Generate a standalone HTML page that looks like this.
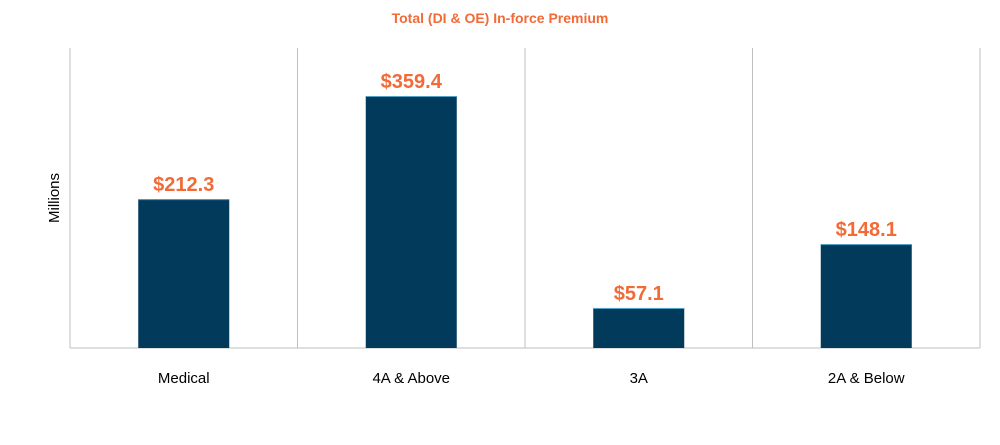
<!DOCTYPE html>
<html><head><meta charset="utf-8">
<style>
html,body{margin:0;padding:0;background:#fff;}
body{width:1000px;height:440px;overflow:hidden;font-family:"Liberation Sans",sans-serif;}
</style></head>
<body>
<svg id="chart" width="1000" height="440" xmlns="http://www.w3.org/2000/svg">
<text x="500" y="23" text-anchor="middle" font-size="14" font-weight="bold" fill="#F26A36" font-family="Liberation Sans, sans-serif">Total (DI &amp; OE) In-force Premium</text>
<text x="0" y="0" transform="translate(59,198) rotate(-90)" text-anchor="middle" font-size="15" fill="#000" font-family="Liberation Sans, sans-serif">Millions</text>
<g id="grid"></g>
<g id="bars"></g>
</svg>
<script>
const categories = ["Medical", "4A & Above", "3A", "2A & Below"];
const values = [212.3, 359.4, 57.1, 148.1];
const valueLabels = ["$212.3", "$359.4", "$57.1", "$148.1"];

const plotLeft = 70, plotRight = 980, plotTop = 48, baseline = 348;
const pxPerUnit = 252 / 359.4;
const bandW = (plotRight - plotLeft) / categories.length;
function xBand(i){ return plotLeft + i * bandW; }
function yScale(v){ return baseline - v * pxPerUnit; }

const NS = "http://www.w3.org/2000/svg";
const grid = document.getElementById("grid");
const bars = document.getElementById("bars");

for (let i = 0; i <= categories.length; i++) {
  const l = document.createElementNS(NS, "line");
  const x = xBand(i);
  l.setAttribute("x1", x); l.setAttribute("x2", x);
  l.setAttribute("y1", plotTop); l.setAttribute("y2", baseline);
  l.setAttribute("stroke", "#BFBFBF"); l.setAttribute("stroke-width", "1");
  
  
  grid.appendChild(l);
}
const ax = document.createElementNS(NS, "line");
ax.setAttribute("x1", plotLeft); ax.setAttribute("x2", plotRight);
ax.setAttribute("y1", baseline); ax.setAttribute("y2", baseline);
ax.setAttribute("stroke", "#BFBFBF"); ax.setAttribute("stroke-width", "1");


grid.appendChild(ax);

categories.forEach((c, i) => {
  const bw = bandW * 0.4;
  const cx = xBand(i) + bandW / 2;
  const y = yScale(values[i]);
  const r = document.createElementNS(NS, "rect");
  r.setAttribute("x", cx - bw / 2); r.setAttribute("y", y);
  r.setAttribute("width", bw); r.setAttribute("height", baseline - y);
  r.setAttribute("fill", "#023A5C");
  
  
  bars.appendChild(r);
  const t = document.createElementNS(NS, "line");
  t.setAttribute("x1", cx - bw / 2); t.setAttribute("x2", cx + bw / 2);
  t.setAttribute("y1", y + 0.5); t.setAttribute("y2", y + 0.5);
  t.setAttribute("stroke", "#4FA3C7"); t.setAttribute("stroke-width", "1");
  
  
  bars.appendChild(t);
  const v = document.createElementNS(NS, "text");
  v.setAttribute("x", cx); v.setAttribute("y", y - 8);
  v.setAttribute("text-anchor", "middle"); v.setAttribute("font-size", "20");
  v.setAttribute("font-weight", "bold"); v.setAttribute("fill", "#F26A36");
  v.textContent = valueLabels[i];
  
  
  bars.appendChild(v);
  const lab = document.createElementNS(NS, "text");
  lab.setAttribute("x", cx); lab.setAttribute("y", 383);
  lab.setAttribute("text-anchor", "middle"); lab.setAttribute("font-size", "15");
  lab.setAttribute("fill", "#000");
  lab.textContent = c;
  
  
  bars.appendChild(lab);
});
</script>
</body></html>
